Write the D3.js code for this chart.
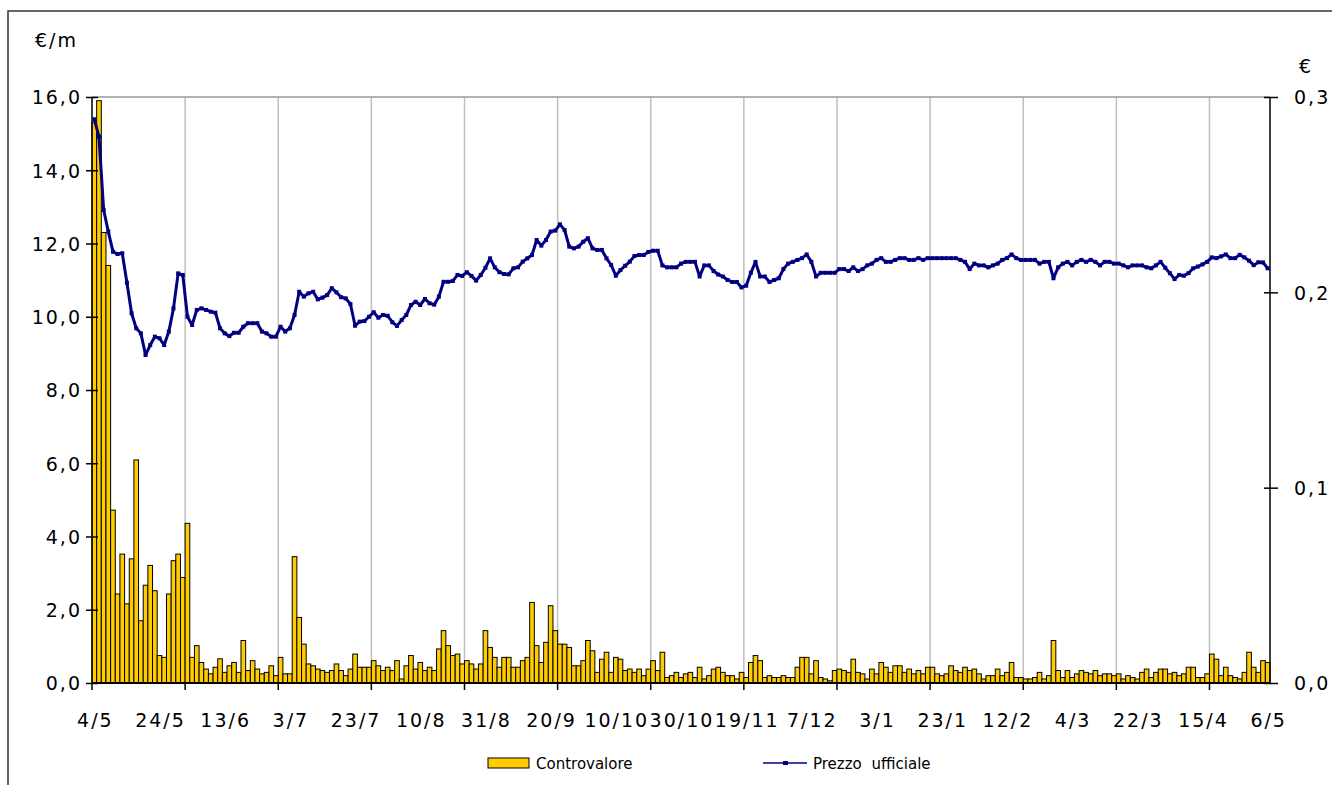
<!DOCTYPE html>
<html>
<head>
<meta charset="utf-8">
<script src="https://cdn.jsdelivr.net/npm/d3@7"></script>
<style>
  body { margin: 0; background: #fff; }
  text { font-family: "DejaVu Sans", Verdana, sans-serif; fill: #000; }
</style>
</head>
<body>
<div id="chart"></div>
<script>
// Controvalore (€/m), one value per trading day
const controvalore = [
  15.3, 15.9, 12.3, 11.4, 4.72, 2.43, 3.52, 2.16, 3.39, 6.09,
  1.70, 2.67, 3.21, 2.52, 0.75, 0.70, 2.43, 3.34, 3.52, 2.88,
  4.36, 0.70, 1.02, 0.56, 0.38, 0.25, 0.43, 0.66, 0.29, 0.47,
  0.56, 0.29, 1.16, 0.34, 0.61, 0.38, 0.25, 0.29, 0.47, 0.20,
  0.70, 0.25, 0.25, 3.45, 1.79, 1.06, 0.52, 0.47, 0.38, 0.34,
  0.29, 0.34, 0.52, 0.34, 0.20, 0.38, 0.79, 0.43, 0.43, 0.43,
  0.61, 0.47, 0.34, 0.43, 0.34, 0.61, 0.11, 0.47, 0.75, 0.38,
  0.56, 0.34, 0.43, 0.34, 0.93, 1.43, 1.02, 0.75, 0.79, 0.52,
  0.61, 0.52, 0.38, 0.52, 1.43, 0.97, 0.70, 0.43, 0.70, 0.70,
  0.43, 0.43, 0.61, 0.70, 2.20, 1.02, 0.56, 1.11, 2.11, 1.43,
  1.06, 1.06, 0.97, 0.47, 0.47, 0.61, 1.16, 0.88, 0.29, 0.65,
  0.84, 0.29, 0.70, 0.65, 0.34, 0.38, 0.29, 0.38, 0.20, 0.38,
  0.61, 0.34, 0.84, 0.15, 0.20, 0.29, 0.15, 0.25, 0.29, 0.15,
  0.43, 0.11, 0.20, 0.38, 0.43, 0.29, 0.20, 0.20, 0.11, 0.29,
  0.15, 0.56, 0.75, 0.61, 0.15, 0.20, 0.15, 0.15, 0.20, 0.15,
  0.15, 0.43, 0.70, 0.70, 0.25, 0.61, 0.15, 0.11, 0.06, 0.34,
  0.38, 0.34, 0.29, 0.65, 0.29, 0.25, 0.11, 0.38, 0.25, 0.56,
  0.43, 0.29, 0.47, 0.47, 0.29, 0.38, 0.25, 0.34, 0.25, 0.43,
  0.43, 0.25, 0.20, 0.25, 0.47, 0.34, 0.29, 0.43, 0.34, 0.38,
  0.25, 0.11, 0.20, 0.20, 0.38, 0.20, 0.29, 0.56, 0.15, 0.15,
  0.11, 0.11, 0.15, 0.29, 0.11, 0.20, 1.16, 0.34, 0.15, 0.34,
  0.15, 0.25, 0.34, 0.29, 0.25, 0.34, 0.20, 0.25, 0.25, 0.20,
  0.25, 0.11, 0.20, 0.15, 0.11, 0.29, 0.38, 0.15, 0.29, 0.38,
  0.38, 0.25, 0.29, 0.20, 0.25, 0.43, 0.43, 0.15, 0.15, 0.25,
  0.79, 0.65, 0.20, 0.43, 0.20, 0.15, 0.11, 0.29, 0.84, 0.43,
  0.29, 0.61, 0.56
]

// Prezzo ufficiale (€), same trading days
const prezzo = [
  0.2886, 0.2797, 0.2422, 0.2311, 0.2208, 0.2196, 0.2200, 0.2049, 0.1893, 0.1816,
  0.1790, 0.1679, 0.1730, 0.1773, 0.1765, 0.1730, 0.1799, 0.1918, 0.2097, 0.2089,
  0.1875, 0.1833, 0.1910, 0.1918, 0.1910, 0.1901, 0.1896, 0.1816, 0.1790, 0.1776,
  0.1793, 0.1793, 0.1824, 0.1842, 0.1842, 0.1842, 0.1799, 0.1790, 0.1773, 0.1773,
  0.1824, 0.1799, 0.1816, 0.1884, 0.2003, 0.1978, 0.1995, 0.2003, 0.1964, 0.1973,
  0.1986, 0.2021, 0.2000, 0.1975, 0.1969, 0.1940, 0.1829, 0.1850, 0.1853, 0.1875,
  0.1898, 0.1870, 0.1884, 0.1880, 0.1847, 0.1828, 0.1858, 0.1884, 0.1935, 0.1952,
  0.1935, 0.1966, 0.1944, 0.1937, 0.1978, 0.2054, 0.2054, 0.2058, 0.2089, 0.2084,
  0.2103, 0.2084, 0.2060, 0.2089, 0.2126, 0.2174, 0.2128, 0.2103, 0.2094, 0.2092,
  0.2123, 0.2128, 0.2157, 0.2174, 0.2191, 0.2268, 0.2239, 0.2268, 0.2311, 0.2316,
  0.2348, 0.2319, 0.2234, 0.2225, 0.2234, 0.2259, 0.2277, 0.2225, 0.2217, 0.2217,
  0.2174, 0.2140, 0.2085, 0.2114, 0.2136, 0.2157, 0.2186, 0.2191, 0.2191, 0.2207,
  0.2213, 0.2213, 0.2138, 0.2128, 0.2128, 0.2128, 0.2147, 0.2156, 0.2156, 0.2156,
  0.2081, 0.2138, 0.2138, 0.2109, 0.2091, 0.2081, 0.2063, 0.2053, 0.2053, 0.2025,
  0.2034, 0.2100, 0.2156, 0.2081, 0.2081, 0.2053, 0.2063, 0.2072, 0.2119, 0.2147,
  0.2156, 0.2166, 0.2175, 0.2194, 0.2156, 0.2081, 0.2100, 0.2100, 0.2100, 0.2100,
  0.2119, 0.2119, 0.2109, 0.2128, 0.2109, 0.2119, 0.2138, 0.2147, 0.2166, 0.2175,
  0.2156, 0.2156, 0.2166, 0.2175, 0.2175, 0.2166, 0.2166, 0.2175, 0.2166, 0.2175,
  0.2175, 0.2175, 0.2175, 0.2175, 0.2175, 0.2175, 0.2166, 0.2156, 0.2119, 0.2147,
  0.2138, 0.2138, 0.2128, 0.2138, 0.2147, 0.2166, 0.2175, 0.2194, 0.2175, 0.2166,
  0.2166, 0.2166, 0.2166, 0.2147, 0.2156, 0.2156, 0.2072, 0.2128, 0.2147, 0.2156,
  0.2138, 0.2156, 0.2166, 0.2156, 0.2166, 0.2156, 0.2138, 0.2156, 0.2156, 0.2147,
  0.2147, 0.2138, 0.2128, 0.2138, 0.2138, 0.2138, 0.2128, 0.2123, 0.2138, 0.2156,
  0.2126, 0.2098, 0.2068, 0.2089, 0.2085, 0.2098, 0.2123, 0.2132, 0.2143, 0.2156,
  0.2179, 0.2175, 0.2184, 0.2194, 0.2175, 0.2175, 0.2192, 0.2179, 0.2162, 0.2139,
  0.2154, 0.2153, 0.2123
]

// category labels, shown every 14 trading days
const dateLabels = ["4/5", "24/5", "13/6", "3/7", "23/7", "10/8", "31/8", "20/9", "10/10", "30/10",
  "19/11", "7/12", "3/1", "23/1", "12/2", "4/3", "22/3", "15/4", "6/5"]
const labelStep = 14
const tickStep = 20

const leftTicks = [0, 2, 4, 6, 8, 10, 12, 14, 16]
const rightTicks = [0, 0.1, 0.2, 0.3]

const width = 1332, height = 785
const margin = { top: 97, right: 62, bottom: 102, left: 92 }
const plotW = width - margin.left - margin.right
const plotH = height - margin.top - margin.bottom

const svg = d3.select('#chart').append('svg')
  .attr('width', width)
  .attr('height', height)

// outer frame (only top and left edges are visible)
svg.append('path')
  .attr('d', `M8,${height + 5}V11H${width + 5}`)
  .attr('fill', 'none')
  .attr('stroke', '#333')
  .attr('stroke-width', 1.5)

const g = svg.append('g')
  .attr('transform', `translate(${margin.left}, ${margin.top})`)

const x = d3.scaleBand()
  .domain(d3.range(controvalore.length))
  .range([0, plotW])
  .padding(0)
const bw = x.bandwidth()

const yL = d3.scaleLinear().domain([0, 16]).range([plotH, 0])
const yR = d3.scaleLinear().domain([0, 0.3]).range([plotH, 0])

const fmt = d => d3.format('.1f')(d).replace('.', ',')

// vertical gridlines at category boundaries
const gridIdx = d3.range(tickStep, controvalore.length, tickStep)
g.append('g')
  .selectAll('line')
  .data(gridIdx)
  .join('line')
  .attr('x1', d => x(d)).attr('x2', d => x(d))
  .attr('y1', 0).attr('y2', plotH)
  .attr('stroke', '#c0c0c0')
  .attr('stroke-width', 1.5)

// top edge of plot area
g.append('line')
  .attr('x1', 0).attr('x2', plotW)
  .attr('y1', 0).attr('y2', 0)
  .attr('stroke', '#999')
  .attr('stroke-width', 1.5)

// bars
g.append('g')
  .selectAll('rect')
  .data(controvalore)
  .join('rect')
  .attr('x', (d, i) => x(i))
  .attr('y', d => yL(d))
  .attr('width', bw)
  .attr('height', d => plotH - yL(d))
  .attr('fill', '#ffcc00')
  .attr('stroke', '#000')
  .attr('stroke-width', 1)

// price line
const line = d3.line()
  .x((d, i) => x(i) + bw / 2)
  .y(d => yR(d))

g.append('path')
  .datum(prezzo)
  .attr('d', line)
  .attr('fill', 'none')
  .attr('stroke', '#000080')
  .attr('stroke-width', 3)
  .attr('stroke-linejoin', 'round')

g.append('g')
  .selectAll('rect')
  .data(prezzo)
  .join('rect')
  .attr('x', (d, i) => x(i) + bw / 2 - 2)
  .attr('y', d => yR(d) - 2)
  .attr('width', 4)
  .attr('height', 4)
  .attr('fill', '#000080')

const labelSize = '19px', labelSpacing = '2px'

// left axis
const axL = g.append('g')
  .call(d3.axisLeft(yL).tickValues(leftTicks).tickFormat(fmt).tickSize(6).tickPadding(7))
axL.select('.domain').attr('stroke', '#000').attr('stroke-width', 1.5).attr('d', `M0,0V${plotH}`)
axL.selectAll('.tick line').attr('x1', -6).attr('x2', 6).attr('stroke-width', 1.5)
axL.selectAll('.tick text')
  .style('font-size', labelSize)
  .style('letter-spacing', labelSpacing)
  .attr('x', -10)
  .attr('dy', '0.36em')

// right axis
const axR = g.append('g')
  .attr('transform', `translate(${plotW}, 0)`)
  .call(d3.axisRight(yR).tickValues(rightTicks).tickFormat(fmt).tickSize(6))
axR.select('.domain').attr('stroke', '#000').attr('stroke-width', 1.5).attr('d', `M0,0V${plotH}`)
axR.selectAll('.tick line').attr('x1', -6).attr('x2', 8).attr('stroke-width', 1.5)
axR.selectAll('.tick text')
  .style('font-size', labelSize)
  .style('letter-spacing', labelSpacing)
  .attr('x', 24)
  .attr('dy', '0.36em')

// bottom axis
g.append('line')
  .attr('x1', 0).attr('x2', plotW)
  .attr('y1', plotH).attr('y2', plotH)
  .attr('stroke', '#000')
  .attr('stroke-width', 2)

g.append('g')
  .selectAll('line')
  .data(d3.range(0, controvalore.length, tickStep))
  .join('line')
  .attr('x1', d => x(d)).attr('x2', d => x(d))
  .attr('y1', plotH).attr('y2', plotH + 7)
  .attr('stroke', '#000')
  .attr('stroke-width', 1.5)

g.append('g')
  .selectAll('text')
  .data(dateLabels)
  .join('text')
  .attr('x', (d, k) => x(k * labelStep) + bw / 2 + 1)
  .attr('y', plotH + 44)
  .attr('text-anchor', 'middle')
  .style('font-size', labelSize)
  .style('letter-spacing', labelSpacing)
  .text(d => d)

// unit labels
svg.append('text')
  .attr('x', 35).attr('y', 47)
  .style('font-size', labelSize)
  .style('letter-spacing', labelSpacing)
  .text('€/m')

svg.append('text')
  .attr('x', 1299).attr('y', 73)
  .style('font-size', labelSize)
  .text('€')

// legend
const leg = svg.append('g')
leg.append('rect')
  .attr('x', 488).attr('y', 758)
  .attr('width', 41).attr('height', 10)
  .attr('fill', '#ffcc00')
  .attr('stroke', '#000')
  .attr('stroke-width', 1)
leg.append('text')
  .attr('x', 536).attr('y', 769)
  .style('font-size', '15px')
  .text('Controvalore')

leg.append('line')
  .attr('x1', 763).attr('x2', 807)
  .attr('y1', 763).attr('y2', 763)
  .attr('stroke', '#000080')
  .attr('stroke-width', 1.5)
leg.append('rect')
  .attr('x', 783).attr('y', 761)
  .attr('width', 5).attr('height', 4)
  .attr('fill', '#000080')
leg.append('text')
  .attr('x', 813).attr('y', 769)
  .style('font-size', '15px')
  .style('word-spacing', '5px')
  .text('Prezzo ufficiale')
</script>
</body>
</html>
